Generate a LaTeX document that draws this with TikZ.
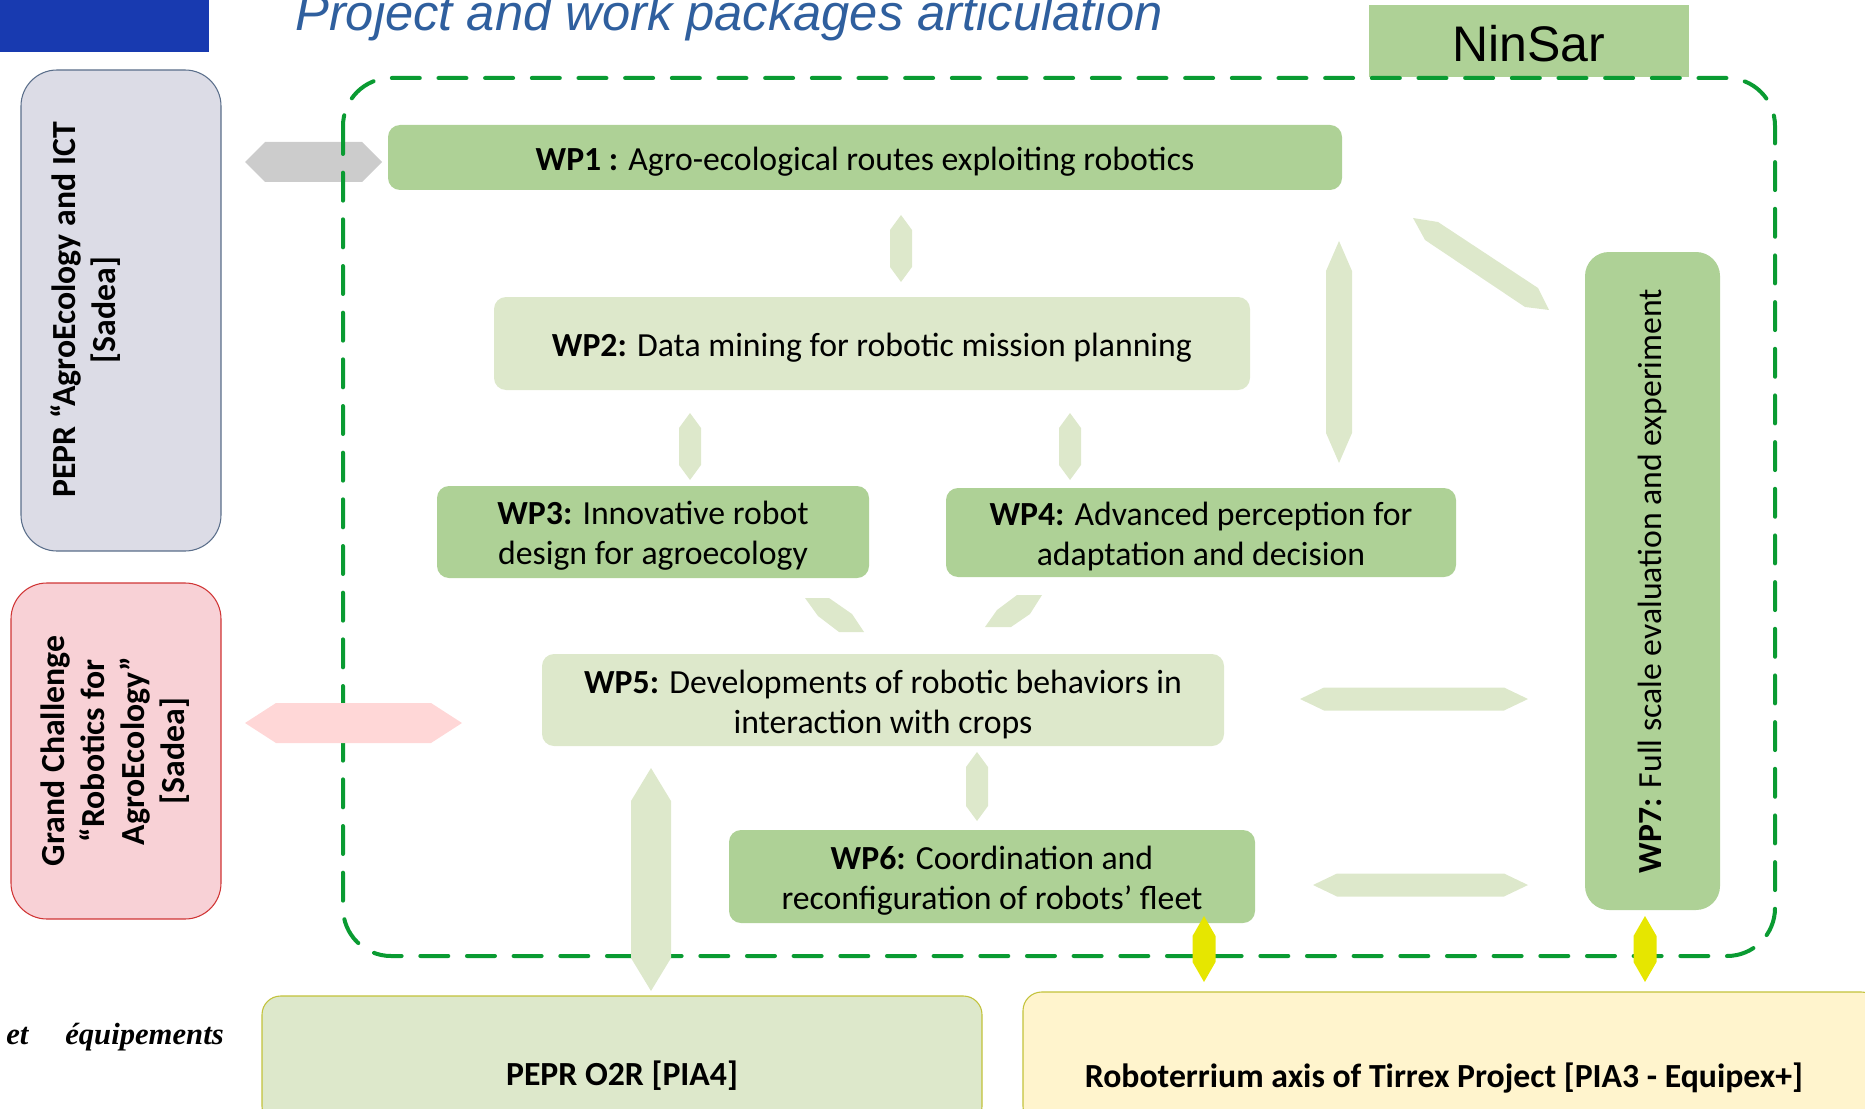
\documentclass[tikz,border=0pt]{standalone}
\usepackage{fontspec}
\setmainfont{Carlito}
\newfontfamily\arialf{Liberation Sans}
\newfontfamily\timesf{Liberation Serif}
\usetikzlibrary{fit}
\definecolor{midgreen}{HTML}{AED196}
\definecolor{lightgreen}{HTML}{DDE8CB}
\definecolor{framegreen}{HTML}{0A9B32}
\definecolor{titleblue}{HTML}{2F5F9E}
\definecolor{barblue}{HTML}{183AB0}
\definecolor{pepfill}{HTML}{DCDCE6}
\definecolor{pepdraw}{HTML}{5A6E8A}
\definecolor{gcfill}{HTML}{F8D1D6}
\definecolor{gcdraw}{HTML}{D03535}
\definecolor{pinkarrow}{HTML}{FFD7D7}
\definecolor{grayarrow}{HTML}{CCCCCC}
\definecolor{yellowbox}{HTML}{FFF4CD}
\definecolor{olivedraw}{HTML}{C2C23A}
\definecolor{yellowarrow}{HTML}{E6E600}
\newcommand{\harr}[6][]{\fill[#1] (#3,#2) -- (#3+#6,#2-#5) -- (#4-#6,#2-#5) -- (#4,#2) -- (#4-#6,#2+#5) -- (#3+#6,#2+#5) -- cycle;}
\newcommand{\varr}[6][]{\fill[#1] (#2,#3) -- (#2+#5,#3+#6) -- (#2+#5,#4-#6) -- (#2,#4) -- (#2-#5,#4-#6) -- (#2-#5,#3+#6) -- cycle;}
\tikzset{
  wpfont/.style={font=\fontsize{25.3}{30}\selectfont, align=center, text=black, yshift=-3pt},
  wpmid/.style={fill=midgreen, rounded corners=9pt, inner sep=0pt},
  wplight/.style={fill=lightgreen, rounded corners=9pt, inner sep=0pt},
  sidefont/.style={font=\fontsize{25.3}{30}\selectfont\bfseries, align=center, rotate=90},
}
\begin{document}
\begin{tikzpicture}[x=0.75pt,y=-0.75pt]
\useasboundingbox (0,0) rectangle (1865,1109);
% header
\fill[barblue] (0,0) rectangle (209,52);
\node[anchor=base west, inner sep=0pt, text=titleblue, font=\arialf\itshape\fontsize{38}{40}\selectfont] (title) at (295,31) {Project and work packages articulation};
% side boxes
\node[fit={(21,70) (221,551)}, inner sep=0pt, fill=pepfill, draw=pepdraw, line width=0.8pt, rounded corners=27pt] (pepr) {};
\node[sidefont] (peprtxt) at (86,310) {PEPR “AgroEcology and ICT\\{[Sadea]}};
\node[fit={(11,583) (221,919)}, inner sep=0pt, fill=gcfill, draw=gcdraw, line width=0.8pt, rounded corners=27pt] (gc) {};
\node[sidefont] (gctxt) at (115,751) {Grand Challenge\\“Robotics for\\AgroEcology”\\{[Sadea]}};
% gray arrow below frame
\harr[grayarrow]{162}{245}{382}{20}{20}
% NinSar
\node[fit={(1369,5) (1689,77)}, inner sep=0pt, fill=midgreen] (ninsar) {};
\node[font=\arialf\fontsize{37.5}{40}\selectfont, inner sep=0pt] (ninsartxt) at (1529,44) {NinSar};
% dashed frame
\draw[framegreen, line width=3pt, line cap=round, dash pattern=on 21pt off 14pt, rounded corners=36pt] (343,78) rectangle (1775,956);
% WP boxes
\node[wpmid, fit={(388,125) (1342,190)}] (wp1) {};
\node[wpfont] (wp1txt) at (wp1.center) {\textbf{WP1 :} Agro-ecological routes exploiting robotics};
\node[wplight, fit={(494,297) (1250,390)}] (wp2) {};
\node[wpfont] (wp2txt) at (wp2.center) {\textbf{WP2:} Data mining for robotic mission planning};
\node[wpmid, fit={(437,486) (869,578)}] (wp3) {};
\node[wpfont] (wp3txt) at (wp3.center) {\textbf{WP3:} Innovative robot\\design for agroecology};
\node[wpmid, fit={(946,488) (1456,577)}] (wp4) {};
\node[wpfont] (wp4txt) at (wp4.center) {\textbf{WP4:} Advanced perception for\\adaptation and decision};
\node[wplight, fit={(542,654) (1224,746)}] (wp5) {};
\node[wpfont] (wp5txt) at (wp5.center) {\textbf{WP5:} Developments of robotic behaviors in\\interaction with crops};
\node[wpmid, fit={(729,830) (1255,923)}] (wp6) {};
\node[wpfont] (wp6txt) at (wp6.center) {\textbf{WP6:} Coordination and\\reconfiguration of robots’ fleet};
\node[fit={(1585,252) (1720,910)}, inner sep=0pt, fill=midgreen, rounded corners=18pt] (wp7) {};
\node[font=\fontsize{25.3}{30}\selectfont, rotate=90] (wp7txt) at (wp7.center) {\textbf{WP7:} Full scale evaluation and experiment};
% bottom boxes
\node[fit={(262,996) (982,1125)}, inner sep=0pt, fill=lightgreen, draw=olivedraw, line width=0.8pt, rounded corners=14pt] (o2r) {};
\node[font=\fontsize{25.3}{30}\selectfont\bfseries] (o2rtxt) at (622,1076) {PEPR O2R [PIA4]};
\node[fit={(1023,992) (1880,1125)}, inner sep=0pt, fill=yellowbox, draw=olivedraw, line width=0.8pt, rounded corners=14pt] (tirrex) {};
\node[font=\fontsize{25.3}{30}\selectfont\bfseries] (tirrextxt) at (1444,1078) {Roboterrium axis of Tirrex Project [PIA3 - Equipex+]};
\node[anchor=base west, inner sep=0pt, font=\timesf\bfseries\itshape\fontsize{23}{25}\selectfont] (et) at (6,1044) {et};
\node[anchor=base west, inner sep=0pt, font=\timesf\bfseries\itshape\fontsize{23}{25}\selectfont] (equip) at (65,1044) {équipements};
% arrows
\harr[pinkarrow]{723}{245}{462}{20}{31}
\harr[lightgreen]{699}{1300}{1528}{11.5}{24}
\harr[lightgreen]{885}{1313}{1528}{11.5}{24}
\varr[lightgreen]{901}{215}{282}{11}{15}
\varr[lightgreen]{690}{413}{480}{11}{15}
\varr[lightgreen]{1070}{413}{480}{11}{15}
\varr[lightgreen]{1339}{241}{463}{13}{30}
\varr[lightgreen]{977}{752}{821}{11}{15}
\varr[lightgreen]{651}{768}{991}{20}{33}
\varr[yellowarrow]{1204}{916}{982}{11.5}{20}
\varr[yellowarrow]{1645}{916}{982}{11.5}{20}
\fill[lightgreen] (1413,218) -- (1438,222) -- (1538,288) -- (1549,310) -- (1525,307) -- (1425,240) -- cycle;
\fill[lightgreen] (805,598) -- (829,598) -- (852,614) -- (864,632) -- (839,632) -- (818,616) -- cycle;
\fill[lightgreen] (1042,595) -- (1017,595) -- (997,610) -- (985,627) -- (1011,627) -- (1030,614) -- cycle;
\end{tikzpicture}
\end{document}
